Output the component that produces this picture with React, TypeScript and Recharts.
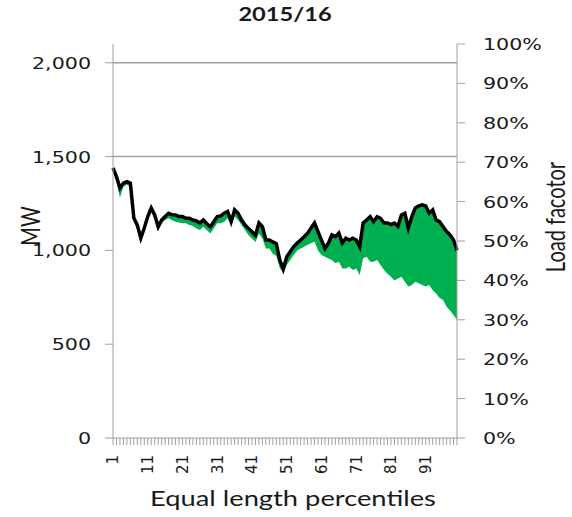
import { ComposedChart, Area, Line, XAxis, YAxis, ReferenceLine } from 'recharts'

// black line: MW at each percentile
const topMW = [
  1440, 1393, 1332, 1358, 1366, 1358, 1172, 1135, 1066, 1119,
  1180, 1226, 1189, 1126, 1162, 1180, 1198, 1190, 1189, 1180,
  1180, 1171, 1171, 1162, 1157, 1146, 1162, 1142, 1126, 1153,
  1180, 1184, 1198, 1207, 1153, 1216, 1198, 1162, 1135, 1117,
  1099, 1081, 1146, 1126, 1055, 1055, 1045, 1036, 949, 900,
  966, 993, 1020, 1039, 1055, 1073, 1092, 1119, 1146, 1100,
  1055, 1010, 1039, 1082, 1073, 1092, 1039, 1065, 1055, 1065,
  1055, 1020, 1146, 1162, 1180, 1153, 1180, 1171, 1146, 1146,
  1137, 1146, 1128, 1189, 1198, 1119, 1180, 1226, 1237, 1243,
  1237, 1198, 1216, 1162, 1153, 1126, 1100, 1082, 1055, 1000,
]

// lower edge of the green band
const lowMW = [
  1420, 1370, 1280, 1340, 1350, 1340, 1150, 1110, 1040, 1095,
  1160, 1205, 1165, 1105, 1145, 1162, 1171, 1160, 1153, 1148,
  1144, 1144, 1135, 1130, 1117, 1108, 1126, 1108, 1090, 1117,
  1144, 1144, 1153, 1171, 1135, 1180, 1162, 1135, 1108, 1081,
  1063, 1045, 1090, 1063, 1010, 1010, 982, 970, 906, 880,
  922, 949, 975, 1000, 1010, 1020, 1030, 1038, 1047, 1000,
  975, 966, 957, 949, 931, 940, 904, 904, 913, 895,
  904, 869, 958, 966, 940, 940, 949, 922, 895, 875,
  860, 840, 850, 860, 833, 808, 815, 833, 825, 815,
  808, 815, 787, 770, 746, 736, 700, 680, 655, 630,
]

const percentiles = topMW.map((_, i) => i + 1)
const mwTicks = [0, 500, 1000, 1500, 2000]
const lfTicks = [0, 0.1, 0.2, 0.3, 0.4, 0.5, 0.6, 0.7, 0.8, 0.9, 1]
const gridMW = [1500, 2000]

const rows = percentiles.map((p, i) => ({
  p,
  top: topMW[i],
  band: [lowMW[i], topMW[i]],
}))

const AXIS = '#a0a0a0'
const TXT = '#1a1a1a'
const STRETCH = 1.25

function XTick(props: any) {
  const { x, y, payload } = props
  if ((payload.value - 1) % 10 !== 0) return <g />
  return (
    <text
      x={x}
      y={y}
      dy="0.36em"
      transform={`rotate(-90, ${x}, ${y})`}
      textAnchor="end"
      fontFamily="DejaVu Sans"
      fontSize={15}
      fill={TXT}
    >
      {payload.value}
    </text>
  )
}

function YTick(props: any) {
  const { x, y, payload, anchor, fmt } = props
  return (
    <text
      transform={`translate(${x}, ${y}) scale(${STRETCH}, 1)`}
      dy="0.36em"
      textAnchor={anchor}
      fontFamily="DejaVu Sans"
      fontSize={16.5}
      fill={TXT}
    >
      {fmt(payload.value)}
    </text>
  )
}

const fmtMW = (v: number) => v.toLocaleString('en-US')
const fmtPct = (v: number) => `${Math.round(v * 100)}%`

const titleBase: any = {
  position: 'absolute',
  fontFamily: 'Lato',
  color: TXT,
  whiteSpace: 'nowrap',
  lineHeight: 1,
}

export default function App() {
  return (
    <div style={{ position: 'absolute', left: 0, top: 0, width: 572, height: 517, background: '#fff' }}>
      <ComposedChart width={572} height={517} data={rows} margin={{ top: 44, right: 0, bottom: 0, left: 0 }}>
        <XAxis
          dataKey="p"
          type="category"
          interval={0}
          tick={<XTick />}
          tickSize={7}
          tickMargin={10}
          height={79}
          stroke={AXIS}
        />
        <YAxis
          yAxisId="mw"
          domain={[0, 2100]}
          ticks={mwTicks}
          width={113}
          tickSize={8}
          tickMargin={14}
          stroke={AXIS}
          tick={<YTick anchor="end" fmt={fmtMW} />}
        />
        <YAxis
          yAxisId="lf"
          orientation="right"
          domain={[0, 1]}
          allowDataOverflow
          ticks={lfTicks}
          width={115}
          tickSize={8}
          tickMargin={18}
          stroke={AXIS}
          tick={<YTick anchor="start" fmt={fmtPct} />}
        />
        {gridMW.map((v) => (
          <ReferenceLine key={v} yAxisId="mw" y={v} stroke={AXIS} strokeWidth={1.5} />
        ))}
        <Area
          yAxisId="mw"
          dataKey="band"
          fill="#00b050"
          fillOpacity={1}
          stroke="none"
          isAnimationActive={false}
        />
        <Line
          yAxisId="mw"
          dataKey="top"
          stroke="#000"
          strokeWidth={3.5}
          dot={false}
          isAnimationActive={false}
        />
        <Line
          yAxisId="lf"
          dataKey="lf"
          stroke="none"
          dot={false}
          legendType="none"
          isAnimationActive={false}
        />
      </ComposedChart>
      <div
        style={{
          ...titleBase, left: 285, top: 14, fontWeight: 700, fontSize: 18,
          transform: `translate(-50%, -50%) scale(${STRETCH * 1.05}, 1)`,
        }}
      >
        2015/16
      </div>
      <div
        style={{
          ...titleBase, left: 293, top: 497, fontSize: 21,
          transform: `translate(-50%, -50%) scale(1.3, 1)`,
        }}
      >
        Equal length percentiles
      </div>
      <div
        style={{
          ...titleBase, left: 30, top: 226, fontSize: 20,
          transform: `translate(-50%, -50%) rotate(-90deg) scale(1, 1.3)`,
        }}
      >
        MW
      </div>
      <div
        style={{
          ...titleBase, left: 555, top: 217, fontSize: 20,
          transform: `translate(-50%, -50%) rotate(-90deg) scale(1, 1.3)`,
        }}
      >
        Load facotor
      </div>
    </div>
  )
}
